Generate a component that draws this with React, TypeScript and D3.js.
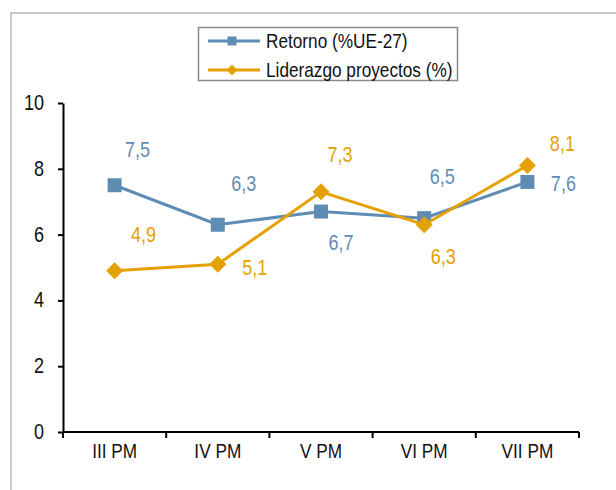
import React, { useEffect, useRef } from 'react';
import * as d3 from 'd3';

const categories = ['III PM', 'IV PM', 'V PM', 'VI PM', 'VII PM'];
const retorno = [7.5, 6.3, 6.7, 6.5, 7.6];
const liderazgo = [4.9, 5.1, 7.3, 6.3, 8.1];
const yTicks = [0, 2, 4, 6, 8, 10];

// hand-placed data label offsets (label centre / baseline relative to point)
const retornoLabelOffsets: [number, number][] = [[23, -28], [26, -34], [20, 38], [18, -34], [36, 9]];
const liderazgoLabelOffsets: [number, number][] = [[29, -29], [37, 11], [19, -30], [19, 39], [35, -15]];

const BLUE = '#5f8cb3';
const GOLD = '#e5a102';
const FONT = '"Liberation Sans", Arial, sans-serif';
const NARROW = 0.82; // squeeze Arial into Arial Narrow proportions

const W = 616;
const H = 490;
const plot = { left: 63, right: 579, top: 103, bottom: 432 };

const fmt = (v: number) => v.toFixed(1).replace('.', ',');

function diamondPath(cx: number, cy: number, r: number) {
  return `M${cx},${cy - r}L${cx + r},${cy}L${cx},${cy + r}L${cx - r},${cy}Z`;
}

type Sel = d3.Selection<SVGGElement, unknown, null, undefined> | d3.Selection<SVGSVGElement, unknown, null, undefined>;

function narrowText(parent: Sel, x: number, y: number, str: string, opts: { size: number; color: string; anchor?: string }) {
  parent.append('text')
    .attr('transform', `translate(${x},${y}) scale(${NARROW},1)`)
    .attr('text-anchor', opts.anchor ?? 'start')
    .attr('fill', opts.color)
    .style('font-family', FONT)
    .style('font-size', `${opts.size}px`)
    .text(str);
}

export default function App() {
  const ref = useRef<SVGSVGElement>(null);

  useEffect(() => {
    if (!ref.current) return;
    const svg = d3.select(ref.current);
    svg.selectAll('*').remove();

    const x = d3.scaleBand<string>().domain(categories).range([plot.left, plot.right]);
    const y = d3.scaleLinear().domain([0, 10]).range([plot.bottom, plot.top]);
    const cx = (c: string) => (x(c) ?? 0) + x.bandwidth() / 2;

    // outer chart frame (cropped on the right and bottom)
    svg.append('rect')
      .attr('x', 11).attr('y', 13)
      .attr('width', 800).attr('height', 800)
      .attr('fill', '#fff')
      .attr('stroke', '#c9c9c9')
      .attr('stroke-width', 2);

    // y axis
    const yAxis = d3.axisLeft(y).tickValues(yTicks).tickSize(5).tickFormat(() => '').tickSizeOuter(0);
    const gy = svg.append('g').attr('transform', `translate(${plot.left},0)`).call(yAxis);
    gy.select('.domain').attr('stroke', '#000').attr('stroke-width', 2);
    gy.selectAll('.tick line').attr('stroke', '#000').attr('stroke-width', 2);
    yTicks.forEach(t => {
      narrowText(svg, plot.left - 19, y(t) + 7, String(t), { size: 22, color: '#111', anchor: 'end' });
    });

    // x axis: line, boundary ticks, centred labels
    const gx = svg.append('g').attr('transform', `translate(0,${plot.bottom})`);
    gx.append('line')
      .attr('x1', plot.left).attr('x2', plot.right)
      .attr('stroke', '#000').attr('stroke-width', 2);
    const bounds = categories.map(c => x(c) ?? 0).concat([plot.right]);
    gx.selectAll('line.tk').data(bounds).enter().append('line')
      .attr('class', 'tk')
      .attr('x1', d => d).attr('x2', d => d)
      .attr('y1', 0).attr('y2', 6)
      .attr('stroke', '#000').attr('stroke-width', 2);
    categories.forEach(c => {
      narrowText(gx, cx(c), 26, c, { size: 21, color: '#111', anchor: 'middle' });
    });

    const line = d3.line<number>()
      .x((_, i) => cx(categories[i]))
      .y(d => y(d));

    // Retorno series
    svg.append('path').datum(retorno)
      .attr('fill', 'none').attr('stroke', BLUE).attr('stroke-width', 3)
      .attr('d', line);
    svg.selectAll('rect.sq').data(retorno).enter().append('rect')
      .attr('class', 'sq')
      .attr('x', (_, i) => cx(categories[i]) - 7)
      .attr('y', d => y(d) - 7)
      .attr('width', 14).attr('height', 14)
      .attr('fill', BLUE);

    // Liderazgo series
    svg.append('path').datum(liderazgo)
      .attr('fill', 'none').attr('stroke', GOLD).attr('stroke-width', 3)
      .attr('d', line);
    svg.selectAll('path.dm').data(liderazgo).enter().append('path')
      .attr('class', 'dm')
      .attr('d', (d, i) => diamondPath(cx(categories[i]), y(d), 8.5))
      .attr('fill', GOLD);

    // data labels
    const labels = svg.append('g');
    const addLabels = (vals: number[], offs: [number, number][], color: string) => {
      vals.forEach((v, i) => {
        narrowText(labels, cx(categories[i]) + offs[i][0], y(v) + offs[i][1], fmt(v), { size: 22, color, anchor: 'middle' });
      });
    };
    addLabels(retorno, retornoLabelOffsets, BLUE);
    addLabels(liderazgo, liderazgoLabelOffsets, GOLD);

    // legend
    const lg = svg.append('g');
    lg.append('rect')
      .attr('x', 198.5).attr('y', 27.5)
      .attr('width', 259).attr('height', 53)
      .attr('fill', '#fff')
      .attr('stroke', '#8a8a8a')
      .attr('stroke-width', 1.5);
    const items = [
      { name: 'Retorno (%UE-27)', color: BLUE, marker: 'square' },
      { name: 'Liderazgo proyectos (%)', color: GOLD, marker: 'diamond' },
    ];
    items.forEach((it, i) => {
      const ly = 41 + i * 29;
      lg.append('line')
        .attr('x1', 208).attr('x2', 260)
        .attr('y1', ly).attr('y2', ly)
        .attr('stroke', it.color).attr('stroke-width', 3);
      if (it.marker === 'square') {
        lg.append('rect')
          .attr('x', 232 - 4.5).attr('y', ly - 4.5)
          .attr('width', 9).attr('height', 9)
          .attr('fill', it.color);
      } else {
        lg.append('path').attr('d', diamondPath(232, ly, 5.5)).attr('fill', it.color);
      }
      narrowText(lg, 266, ly + 7, it.name, { size: 21, color: '#111' });
    });
  }, []);

  return (
    <svg
      ref={ref}
      width={W}
      height={H}
      style={{ position: 'absolute', left: 0, top: 0, background: '#fff' }}
    />
  );
}
